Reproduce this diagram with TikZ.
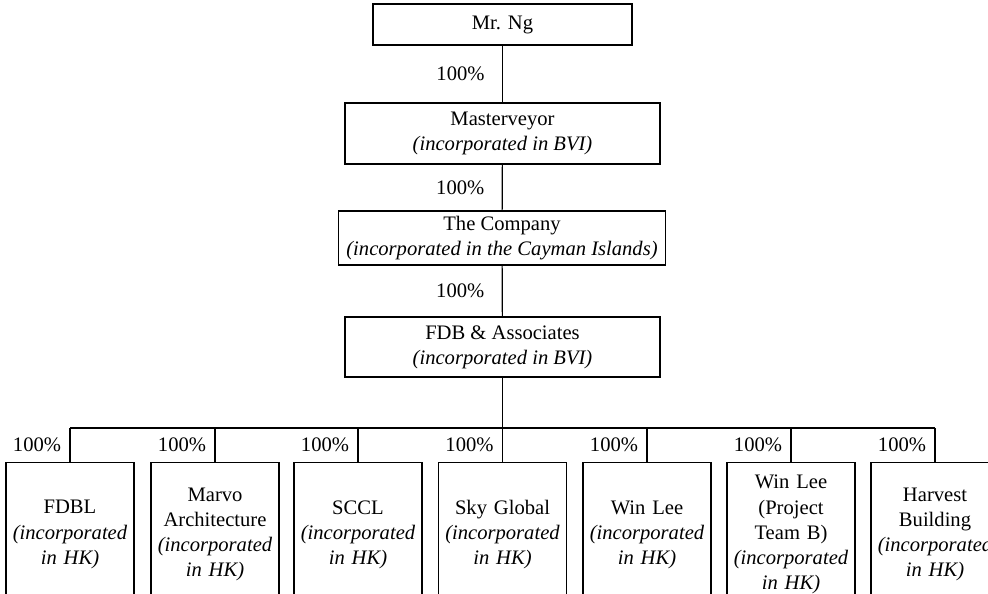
\documentclass[tikz,border=0pt]{standalone}
\usepackage{fontspec}
\setmainfont{Liberation Serif}
\begin{document}
\begin{tikzpicture}[x=0.5pt,y=-0.5pt,
  every node/.style={font=\fontsize{10.3}{12.6}\selectfont},
  box/.style={draw, line width=0.6pt, inner sep=0pt, align=center},
  sub/.style={draw, line width=0.6pt, inner sep=1pt, align=center, anchor=north,
    minimum width=64pt, minimum height=72pt, text width=62pt},
  conn/.style={line width=0.6pt},
  pct/.style={inner sep=0pt}]
\useasboundingbox (0,0) rectangle (988,593);
\clip (0,0) rectangle (988,593);

\node[box, minimum width=129.5pt, minimum height=20.5pt] (ng) at (502.5,24.5) {Mr. Ng};
\node[box, minimum width=157.5pt, minimum height=30.5pt] (mv) at (502.5,133.5)
  {Masterveyor\\\textit{(incorporated in BVI)}};
\node[box, minimum width=163.5pt, minimum height=27pt] (co) at (502,238)
  {The Company\\\textit{(incorporated in the Cayman Islands)}};
\node[box, minimum width=157.5pt, minimum height=30pt] (fdb) at (502.5,347)
  {FDB \& Associates\\\textit{(incorporated in BVI)}};

\draw[conn] (ng) -- node[pct, pos=0.5, xshift=-21pt] {100\%} (mv);
\draw[conn] (mv) -- node[pct, pos=0.5, xshift=-21pt] {100\%} (co);
\draw[conn] (co) -- node[pct, pos=0.5, xshift=-21pt] {100\%} (fdb);

\node[sub] (b1) at (70,462) {FDBL\\\textit{(incorporated}\\\textit{in HK)}};
\node[sub] (b2) at (215,462) {Marvo\\Architecture\\\textit{(incorporated}\\\textit{in HK)}};
\node[sub] (b3) at (358,462) {SCCL\\\textit{(incorporated}\\\textit{in HK)}};
\node[sub] (b4) at (502.5,462) {Sky Global\\\textit{(incorporated}\\\textit{in HK)}};
\node[sub] (b5) at (647,462) {Win Lee\\\textit{(incorporated}\\\textit{in HK)}};
\node[sub] (b6) at (791,462) {Win Lee\\(Project\\Team B)\\\textit{(incorporated}\\\textit{in HK)}};
\node[sub] (b7) at (935,462) {Harvest\\Building\\\textit{(incorporated}\\\textit{in HK)}};

\coordinate (bus) at (502.5,428);
\draw[conn] (fdb) -- (bus);
\draw[conn] (b1.north |- bus) -- (b7.north |- bus);
\foreach \i in {1,...,7}{
  \draw[conn] (b\i.north |- bus) -- node[pct, pos=0.5, xshift=-16.5pt] {100\%} (b\i.north);
}
\end{tikzpicture}
\end{document}
